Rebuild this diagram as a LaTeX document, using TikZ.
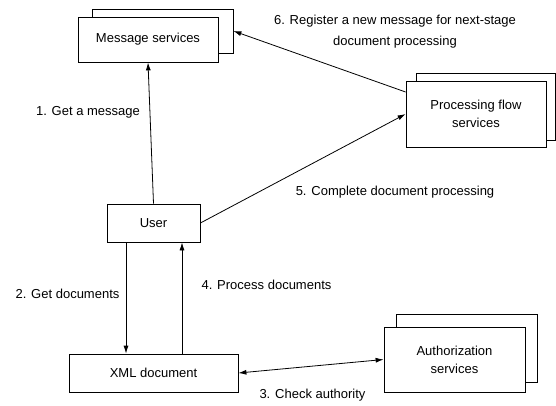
\documentclass[tikz,border=0pt]{standalone}
\usepackage{fontspec}
\setmainfont{Liberation Sans}
\usetikzlibrary{arrows.meta}
\begin{document}
\begin{tikzpicture}[x=1pt,y=-1pt,
  box/.style={draw, fill=white, line width=0.8pt, inner sep=0pt, align=center,
    font=\fontsize{13}{18}\selectfont},
  conn/.style={line width=0.8pt},
  tip/.tip={Latex[length=8pt,width=5pt]},
  arr/.style={conn, -tip},
  lbl/.style={font=\fontsize{13}{21}\selectfont, inner sep=0pt, align=center}]
\useasboundingbox (0,0) rectangle (556,405);
% message services
\node[box, minimum width=141pt, minimum height=44pt] (msgb) at (162.5,31) {};
\node[box, minimum width=140pt, minimum height=45pt] (msg) at (148,39.5) {Message services};
% processing flow services
\node[box, minimum width=139pt, minimum height=67pt] (procb) at (485.5,106.5) {};
\node[box, minimum width=140pt, minimum height=66pt] (proc) at (476,114) {Processing flow\\services};
% authorization services
\node[box, minimum width=141pt, minimum height=68pt] (authb) at (466.5,348) {};
\node[box, minimum width=141pt, minimum height=65pt] (auth) at (454.5,359.5) {Authorization\\services};
% user and xml
\node[box, minimum width=93pt, minimum height=38pt] (user) at (153.5,223) {User};
\node[box, minimum width=169pt, minimum height=38pt] (xml) at (153.5,373) {XML document};
% connectors
\draw[arr] (user.north) -- (msg.south);
\coordinate (u2) at ([xshift=-27.5pt]user.south);
\draw[arr] (u2) -- (u2 |- xml.north);
\coordinate (x4) at ([xshift=28.5pt]xml.north);
\draw[arr] (x4) -- (x4 |- user.south);
\draw[arr] (user.east) -- (proc.west);
\coordinate (p6) at ([yshift=22pt]proc.west);
\draw[arr] (p6) -- (msgb.east);
\draw[conn, tip-tip] (xml.east) -- (auth.west);
% labels
\node[lbl] (l1) at (88,112) {1. Get a message};
\node[lbl] (l2) at (67.5,294) {2. Get documents};
\node[lbl] (l4) at (266.5,285) {4. Process documents};
\node[lbl] (l5) at (395,192) {5. Complete document processing};
\node[lbl] (l3) at (312.5,395) {3. Check authority};
\node[lbl] (l6) at (395,31.5) {6. Register a new message for next-stage\\document processing};
\end{tikzpicture}
\end{document}
